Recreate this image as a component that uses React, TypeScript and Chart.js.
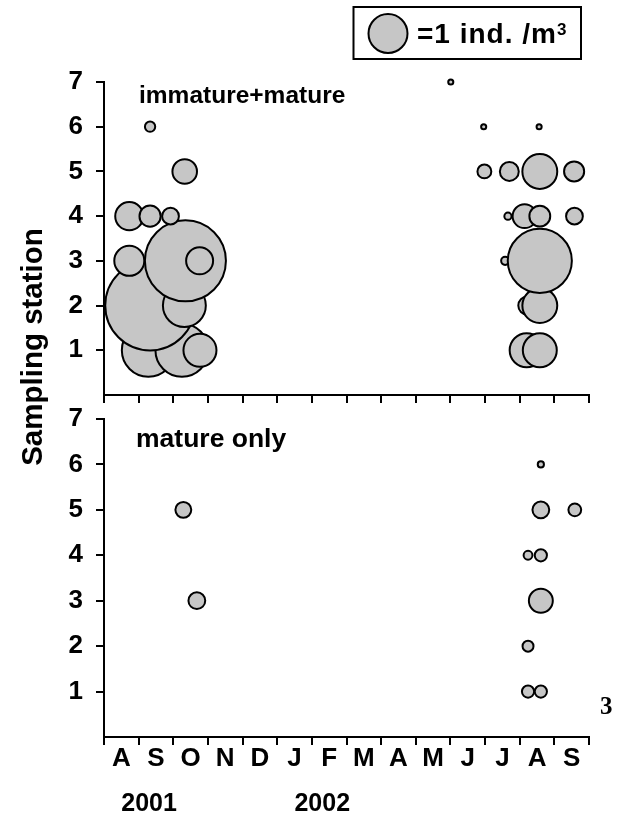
import React, { useEffect, useRef } from 'react';
import { Chart, registerables } from 'chart.js';

Chart.register(...registerables);

// ---- Data -------------------------------------------------------------
// x = months since 1 Aug 2001 (0 = start of Aug 2001, 14 = start of Oct 2002)
const MONTH_LABELS = ['A', 'S', 'O', 'N', 'D', 'J', 'F', 'M', 'A', 'M', 'J', 'J', 'A', 'S'];
const MONTH_BOUNDARIES = [0, 1, 2, 3, 4, 5, 6, 7, 8, 9, 10, 11, 12, 13, 14];
const YEAR_LABELS = ['2001', '2002'];
const YEAR_START_INDEX = [0, 5];
const STATION_TICKS = [1, 2, 3, 4, 5, 6, 7];

// immature + mature (ind. / m^3), listed station by station (drawing order)
const TOP_MONTH = [
  1.28, 2.25, 2.77, 12.2, 12.58,
  1.33, 2.32, 12.22, 12.58,
  0.73, 2.35, 2.76, 11.58, 12.58,
  0.73, 1.33, 1.92, 11.66, 12.14, 12.58, 13.58,
  2.33, 10.98, 11.7, 12.58, 13.57,
  1.33, 10.96, 12.56,
  10.01,
];
const TOP_STATION = [
  1, 1, 1, 1, 1,
  2, 2, 2, 2,
  3, 3, 3, 3, 3,
  4, 4, 4, 4, 4, 4, 4,
  5, 5, 5, 5, 5,
  6, 6, 6,
  7,
];
const TOP_DENSITY = [
  1.8, 1.8, 0.73, 0.77, 0.77,
  5.0, 1.2, 0.24, 0.81,
  0.61, 4.1, 0.5, 0.06, 2.6,
  0.54, 0.32, 0.21, 0.05, 0.4, 0.31, 0.21,
  0.42, 0.15, 0.26, 0.81, 0.29,
  0.09, 0.03, 0.03,
  0.03,
];

// mature only (ind. / m^3)
const BOTTOM_MONTH = [12.24, 12.61, 12.24, 2.68, 12.61, 12.24, 12.61, 2.29, 12.61, 13.59, 12.61];
const BOTTOM_STATION = [1, 1, 2, 3, 3, 4, 4, 5, 5, 5, 6];
const BOTTOM_DENSITY = [0.12, 0.12, 0.1, 0.21, 0.4, 0.07, 0.12, 0.19, 0.21, 0.13, 0.04];

const LEGEND_DENSITY = 1;
const PANEL_TITLES = ['immature+mature', 'mature only'];
const LEGEND_TEXT = '=1 ind. /m';
const LEGEND_SUPERSCRIPT = '3';
const Y_AXIS_TITLE = 'Sampling station';
const PAGE_NUMBER = '3';

// ---- Style ------------------------------------------------------------
const SANS = "'Liberation Sans', Arial, Helvetica, sans-serif";
const SERIF = "'Liberation Serif', 'Times New Roman', serif";
const FILL = 'rgb(198,198,198)';
const INK = '#000000';
const BORDER_W = 2;
const UNIT_RADIUS = 20.5; // outer radius (px) of a bubble worth 1 ind./m^3

const radiusFor = (v: number) => Math.max(UNIT_RADIUS * Math.sqrt(v) - BORDER_W / 2, 1);

const tickFont = { family: SANS, size: 26, weight: 'bold' as const, lineHeight: 1 };

function yScale() {
  return {
    type: 'linear' as const,
    min: 0,
    max: 7,
    afterBuildTicks: (s: any) => {
      s.ticks = STATION_TICKS.map((v) => ({ value: v }));
    },
    afterFit: (s: any) => {
      s.width = 40;
    },
    ticks: { color: INK, font: tickFont, padding: 13 },
    grid: { display: true, drawOnChartArea: false, drawTicks: true, tickLength: 8, color: INK, lineWidth: 2 },
    border: { display: true, color: INK, width: 2 },
  };
}

function buildConfig(panel: 'top' | 'bottom'): any {
  const months = panel === 'top' ? TOP_MONTH : BOTTOM_MONTH;
  const stations = panel === 'top' ? TOP_STATION : BOTTOM_STATION;
  const dens = panel === 'top' ? TOP_DENSITY : BOTTOM_DENSITY;
  const points = months.map((m, i) => ({ x: m, y: stations[i], r: radiusFor(dens[i]) }));

  const xScale: any = {
    type: 'linear',
    min: 0,
    max: 14,
    position: 'bottom',
    weight: 0,
    afterBuildTicks: (s: any) => {
      s.ticks = MONTH_BOUNDARIES.map((v) => ({ value: v }));
    },
    grid: { display: true, drawOnChartArea: false, drawTicks: true, tickLength: 8, color: INK, lineWidth: 2 },
    border: { display: true, color: INK, width: 2 },
  };

  const scales: any = { x: xScale, y: yScale() };

  if (panel === 'top') {
    xScale.ticks = { display: false };
    xScale.afterFit = (s: any) => {
      s.height = 10;
    };
  } else {
    xScale.ticks = {
      display: true,
      color: INK,
      font: tickFont,
      padding: 1,
      autoSkip: false,
      maxRotation: 0,
      minRotation: 0,
      labelOffset: 17.3,
      callback: (_v: any, i: number) => (i < MONTH_LABELS.length ? MONTH_LABELS[i] : ''),
    };
    xScale.afterFit = (s: any) => {
      s.height = 33;
    };
    scales.x2 = {
      type: 'linear',
      min: 0,
      max: 14,
      position: 'bottom',
      weight: 1,
      afterBuildTicks: (s: any) => {
        s.ticks = YEAR_START_INDEX.map((v) => ({ value: v + 1.3 }));
      },
      afterFit: (s: any) => {
        s.height = 47;
      },
      ticks: {
        color: INK,
        font: { ...tickFont, size: 25 },
        padding: 22,
        autoSkip: false,
        maxRotation: 0,
        callback: (_v: any, i: number) => YEAR_LABELS[i],
      },
      grid: { display: false, drawTicks: false },
      border: { display: false },
    };
  }

  const decorations = {
    id: 'decorations-' + panel,
    afterDraw(chart: any) {
      const ctx = chart.ctx;
      ctx.save();
      ctx.fillStyle = INK;
      ctx.textBaseline = 'alphabetic';
      ctx.textAlign = 'left';
      if (panel === 'top') {
        ctx.font = `bold 24.5px ${SANS}`;
        ctx.fillText(PANEL_TITLES[0], 139, 103);

        // y-axis title shared by both panels
        ctx.save();
        ctx.translate(42, 347);
        ctx.rotate(-Math.PI / 2);
        ctx.textAlign = 'center';
        ctx.font = `bold 29.5px ${SANS}`;
        ctx.fillText(Y_AXIS_TITLE, 0, 0);
        ctx.restore();

        // legend box
        ctx.lineWidth = 2;
        ctx.strokeStyle = INK;
        ctx.strokeRect(353.5, 7, 227.5, 52);
        ctx.beginPath();
        ctx.arc(388, 33.5, radiusFor(LEGEND_DENSITY), 0, Math.PI * 2);
        ctx.fillStyle = FILL;
        ctx.fill();
        ctx.lineWidth = BORDER_W;
        ctx.stroke();
        ctx.fillStyle = INK;
        ctx.font = `bold 28px ${SANS}`;
        try {
          (ctx as any).letterSpacing = '1px';
        } catch (e) {
          /* ignore */
        }
        ctx.fillText(LEGEND_TEXT, 417, 43);
        const w = ctx.measureText(LEGEND_TEXT).width;
        try {
          (ctx as any).letterSpacing = '0px';
        } catch (e) {
          /* ignore */
        }
        ctx.font = `bold 17px ${SANS}`;
        ctx.fillText(LEGEND_SUPERSCRIPT, 417 + w, 35);
      } else {
        ctx.font = `bold 26.5px ${SANS}`;
        ctx.fillText(PANEL_TITLES[1], 136, 447);
        ctx.font = `bold 25px ${SERIF}`;
        ctx.fillText(PAGE_NUMBER, 600, 714);
      }
      ctx.restore();
    },
  };

  return {
    type: 'bubble',
    data: {
      datasets: [
        {
          data: points,
          backgroundColor: FILL,
          borderColor: INK,
          borderWidth: BORDER_W,
          hoverRadius: 0,
          clip: false,
        },
      ],
    },
    options: {
      animation: false,
      responsive: true,
      maintainAspectRatio: false,
      events: [],
      layout: {
        autoPadding: false,
        padding:
          panel === 'top'
            ? { left: 64, right: 37, top: 82, bottom: 421 }
            : { left: 64, right: 37, top: 419, bottom: 9 },
      },
      plugins: { legend: { display: false }, tooltip: { enabled: false }, title: { display: false } },
      scales,
    },
    plugins: [decorations],
  };
}

function Panel({ panel }: { panel: 'top' | 'bottom' }) {
  const ref = useRef<HTMLCanvasElement | null>(null);
  useEffect(() => {
    if (!ref.current) return;
    const chart = new Chart(ref.current, buildConfig(panel));
    return () => chart.destroy();
  }, [panel]);
  return (
    <div style={{ position: 'absolute', left: 0, top: 0, width: 626, height: 826 }}>
      <canvas ref={ref} />
    </div>
  );
}

export default function App() {
  return (
    <div style={{ position: 'absolute', left: 0, top: 0, width: 626, height: 826, background: '#fff' }}>
      <Panel panel="top" />
      <Panel panel="bottom" />
    </div>
  );
}
